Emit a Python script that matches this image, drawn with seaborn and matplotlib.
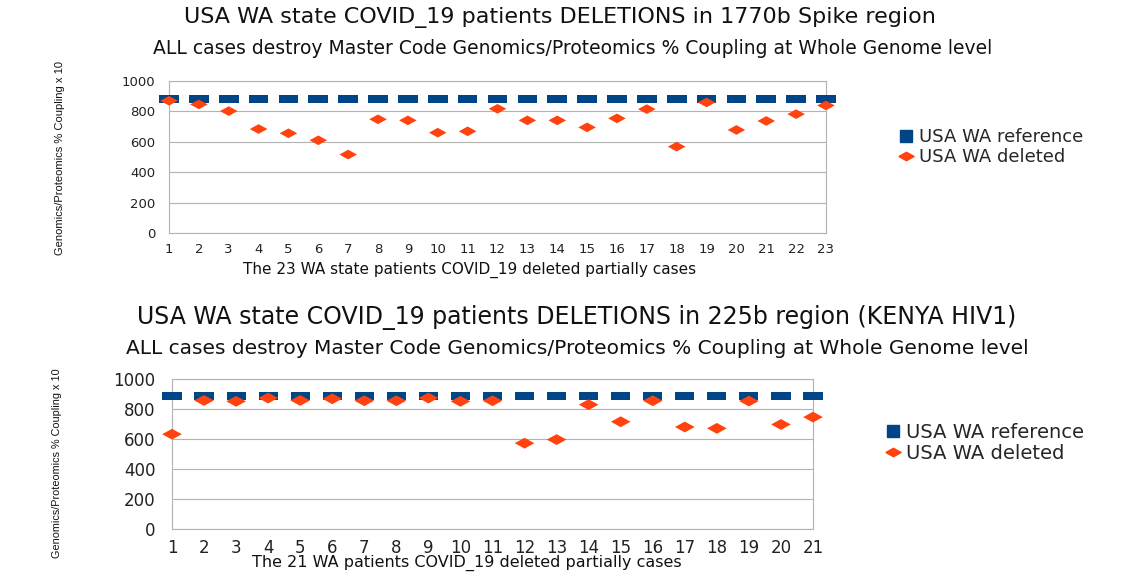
import matplotlib
matplotlib.use("Agg")
import matplotlib.pyplot as plt
from matplotlib.lines import Line2D
import seaborn as sns
import pandas as pd

# values (Coupling % x 10)
top_cases = list(range(1, 24))
top_reference = [880, 880, 880, 880, 880, 880, 880, 880, 880, 880, 880, 880,
                 880, 880, 880, 880, 880, 880, 880, 880, 880, 880, 880]
top_deleted = [870, 846, 802, 684, 656, 610, 516, 748, 741, 660, 669, 817,
               741, 741, 695, 754, 815, 568, 859, 678, 737, 782, 839]

bottom_cases = list(range(1, 22))
bottom_reference = [885, 885, 885, 885, 885, 885, 885, 885, 885, 885, 885,
                    885, 885, 885, 885, 885, 885, 885, 885, 885, 885]
bottom_deleted = [632, 857, 851, 873, 857, 868, 855, 855, 873, 851, 855,
                  572, 596, 829, 715, 855, 680, 671, 853, 697, 746]

y_ticks = [0, 200, 400, 600, 800, 1000]

BLUE = "#004586"
ORANGE = "#ff420e"
GRID = "#b3b3b3"
INK = "#111111"

sns.set_style("white")
plt.rcParams["font.family"] = ["DejaVu Sans"]

RECT = [(-1, -0.4), (1, -0.4), (1, 0.4), (-1, 0.4), (-1, -0.4)]
DIAM = [(-1, 0), (0, 0.55), (1, 0), (0, -0.55), (-1, 0)]

W, H = 1147, 573
fig = plt.figure(figsize=(W / 100, H / 100), dpi=100)


def box(l, t, r, b):
    return [l / W, 1 - b / H, (r - l) / W, (b - t) / H]


def panel(ax, cases, ref, dele, rect_s, diam_s, fs, ypad):
    df = pd.DataFrame({"case": cases, "ref": ref, "del": dele})
    sns.scatterplot(data=df, x="case", y="ref", marker=RECT, s=rect_s,
                    color=BLUE, edgecolor="none", ax=ax, clip_on=False, zorder=3)
    sns.scatterplot(data=df, x="case", y="del", marker=DIAM, s=diam_s,
                    color=ORANGE, edgecolor="none", ax=ax, clip_on=False, zorder=4)
    ax.set_xlim(cases[0], cases[-1])
    ax.set_ylim(0, 1000)
    ax.set_yticks(y_ticks)
    ax.set_xticks(cases)
    ax.set_xticklabels([str(c) for c in cases], fontsize=fs)
    ax.set_yticklabels([str(v) for v in y_ticks], fontsize=fs)
    ax.yaxis.grid(True, color=GRID, lw=0.8)
    ax.set_axisbelow(True)
    for sp in ax.spines.values():
        sp.set_color(GRID)
        sp.set_linewidth(0.8)
    ax.tick_params(axis="both", length=4, color=GRID, pad=3, labelcolor="#222222")
    ax.tick_params(axis="y", pad=ypad)
    ax.set_xlabel("")
    ax.set_ylabel("")


# top panel
ax1 = fig.add_axes(box(169, 81, 826, 233))
panel(ax1, top_cases, top_reference, top_deleted, 200, 160, 9.5, 6)

# bottom panel
ax2 = fig.add_axes(box(172, 379, 813, 529))
panel(ax2, bottom_cases, bottom_reference, bottom_deleted, 190, 200, 12, 8)

fig.text(560 / W, 1 - 18 / H, "USA WA state COVID_19 patients DELETIONS in 1770b Spike region",
         ha="center", va="center", fontsize=16, color=INK)
fig.text(573 / W, 1 - 48 / H, "ALL cases destroy Master Code Genomics/Proteomics % Coupling at Whole Genome level",
         ha="center", va="center", fontsize=13.5, color=INK)
fig.text(470 / W, 1 - 270 / H, "The 23 WA state patients COVID_19 deleted partially cases",
         ha="center", va="center", fontsize=11, color=INK)
fig.text(60 / W, 1 - 158 / H, "Genomics/Proteomics % Coupling x 10", rotation=90,
         ha="center", va="center", fontsize=8, color=INK, family="Liberation Sans")

fig.text(577 / W, 1 - 318 / H, "USA WA state COVID_19 patients DELETIONS in 225b region (KENYA HIV1)",
         ha="center", va="center", fontsize=17, color=INK)
fig.text(577 / W, 1 - 348 / H, "ALL cases destroy Master Code Genomics/Proteomics % Coupling at Whole Genome level",
         ha="center", va="center", fontsize=14.5, color=INK)
fig.text(467 / W, 1 - 563 / H, "The 21 WA patients COVID_19 deleted partially cases",
         ha="center", va="center", fontsize=11.5, color=INK)
fig.text(57 / W, 1 - 463 / H, "Genomics/Proteomics % Coupling x 10", rotation=90,
         ha="center", va="center", fontsize=7.8, color=INK, family="Liberation Sans")

handles = [Line2D([], [], ls="none", marker="s", color=BLUE, markersize=8),
           Line2D([], [], ls="none", marker=DIAM, color=ORANGE, markersize=11)]
labels = ["USA WA reference", "USA WA deleted"]
fig.legend(handles, labels, loc="center left", bbox_to_anchor=(890 / W, 1 - 147 / H),
           frameon=False, fontsize=13, handletextpad=0.2, handlelength=1.0,
           labelspacing=0.1, borderaxespad=0)
fig.legend(handles, labels, loc="center left", bbox_to_anchor=(875 / W, 1 - 443 / H),
           frameon=False, fontsize=14, handletextpad=0.2, handlelength=1.0,
           labelspacing=0.1, borderaxespad=0)

fig.savefig("out.png", dpi=100)
